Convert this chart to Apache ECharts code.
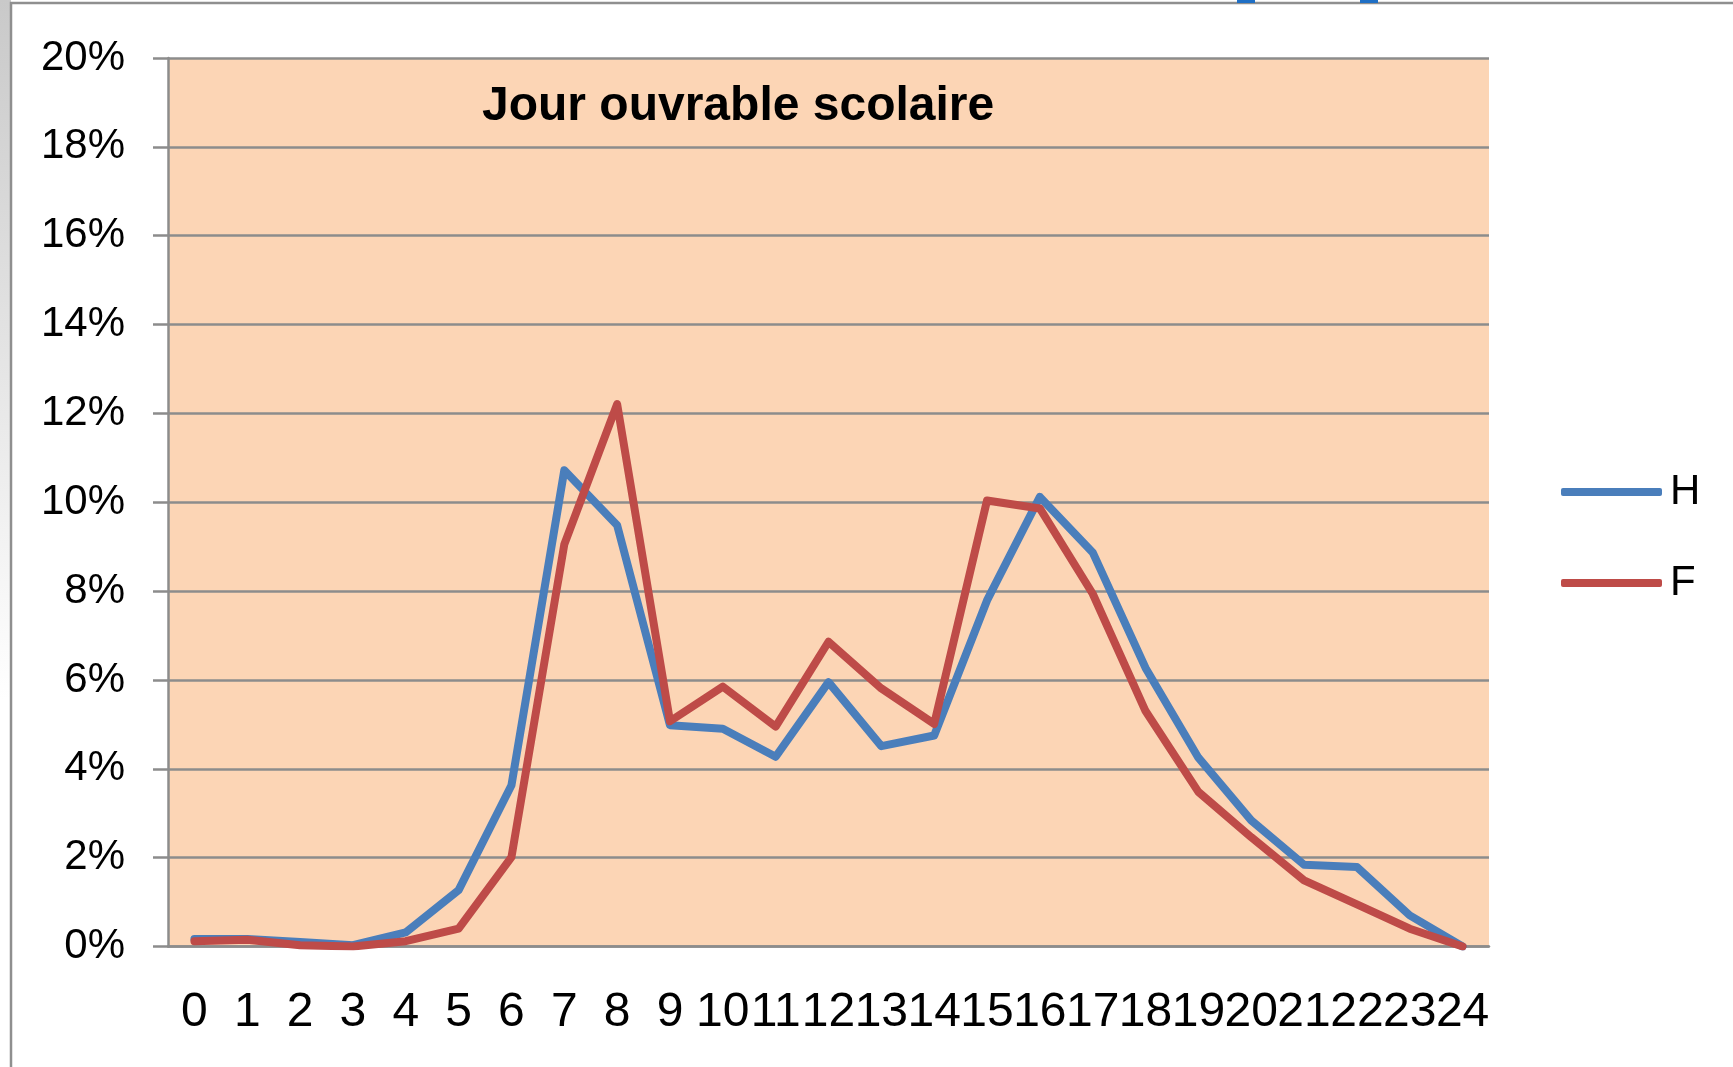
<!DOCTYPE html>
<html>
<head>
<meta charset="utf-8">
<title>Jour ouvrable scolaire</title>
<script src="https://cdn.jsdelivr.net/npm/echarts@6/dist/echarts.min.js"></script>
<style>
  html, body { margin: 0; padding: 0; background: #fff; }
  #Map { width: 1733px; height: 1067px; }
</style>
</head>
<body>
<div id="Map"></div>
<script>
// heures de la journée (0 à 24)
var heures = ['0','1','2','3','4','5','6','7','8','9','10','11','12','13','14','15','16','17','18','19','20','21','22','23','24'];
// part des déplacements par heure, en %
var hommes = [0.17, 0.17, 0.1, 0.03, 0.32, 1.27, 3.63, 10.72, 9.48, 4.98, 4.9, 4.27, 5.95, 4.51, 4.75, 7.79, 10.12, 8.87, 6.27, 4.25, 2.84, 1.84, 1.79, 0.7, 0.0];
var femmes = [0.12, 0.15, 0.03, 0.0, 0.12, 0.4, 2.01, 9.05, 12.21, 5.07, 5.85, 4.95, 6.86, 5.81, 5.01, 10.04, 9.86, 7.94, 5.3, 3.48, 2.46, 1.49, 0.95, 0.4, 0.0];
var titre = 'Jour ouvrable scolaire';

var myChart = echarts.init(document.getElementById('Map'));

var gris = '#8c8c8c';
var police = '"Liberation Sans", Arial, sans-serif';

var option = {
    backgroundColor: '#ffffff',
    animation: false,
    title: {
        text: titre,
        left: 482,
        top: 83,
        padding: 0,
        textStyle: {
            fontFamily: police,
            fontSize: 48,
            fontWeight: 'bold',
            color: '#000'
        }
    },
    legend: {
        orient: 'vertical',
        left: 1561,
        top: 470,
        padding: 0,
        itemWidth: 101,
        itemHeight: 8,
        itemGap: 47,
        icon: 'roundRect',
        data: ['H', 'F'],
        textStyle: {
            fontFamily: police,
            fontSize: 42,
            lineHeight: 44,
            color: '#000',
            padding: [0, 0, 0, 3]
        }
    },
    grid: {
        left: 168,
        right: 244,
        top: 58,
        bottom: 120.5,
        show: true,
        backgroundColor: '#fcd5b5',
        borderWidth: 0
    },
    xAxis: {
        type: 'category',
        boundaryGap: true,
        data: heures,
        axisLine: { lineStyle: { color: gris, width: 2.5 } },
        axisTick: { length: 18, lineStyle: { color: gris, width: 2.5 } },
        axisLabel: {
            interval: 0,
            margin: 42,
            fontFamily: police,
            fontSize: 48,
            color: '#000'
        },
        splitLine: { show: false }
    },
    yAxis: {
        type: 'value',
        min: 0,
        max: 20,
        interval: 2,
        axisLine: { show: true, lineStyle: { color: gris, width: 2.5 } },
        axisTick: { show: true, length: 15, lineStyle: { color: gris, width: 2.5 } },
        axisLabel: {
            margin: 43,
            formatter: '{value}%',
            fontFamily: police,
            fontSize: 42,
            color: '#000'
        },
        splitLine: { lineStyle: { color: gris, width: 2.5 } }
    },
    graphic: [
        {
            type: 'rect',
            silent: true,
            z: -10,
            shape: { x: 0, y: 0, width: 11, height: 700 },
            style: {
                fill: new echarts.graphic.LinearGradient(0, 0, 0, 1, [
                    { offset: 0, color: '#c9c9c9' },
                    { offset: 1, color: '#ffffff' }
                ])
            }
        },
        {
            type: 'rect',
            silent: true,
            z: 100,
            shape: { x: 11, y: 3, width: 1740, height: 1080 },
            style: { fill: 'none', stroke: '#8f8f8f', lineWidth: 2.5 }
        },
        {
            type: 'rect',
            silent: true,
            z: 101,
            shape: { x: 1237, y: 0, width: 18, height: 3 },
            style: { fill: '#1f6fc5' }
        },
        {
            type: 'rect',
            silent: true,
            z: 101,
            shape: { x: 1360, y: 0, width: 18, height: 3 },
            style: { fill: '#1f6fc5' }
        }
    ],
    series: [
        {
            name: 'H',
            type: 'line',
            data: hommes,
            symbol: 'none',
            color: '#4a7ebb',
            lineStyle: { width: 8, cap: 'round', join: 'round' }
        },
        {
            name: 'F',
            type: 'line',
            data: femmes,
            symbol: 'none',
            color: '#be4b48',
            lineStyle: { width: 8, cap: 'round', join: 'round' }
        }
    ]
};
myChart.setOption(option);
</script>
</body>
</html>
